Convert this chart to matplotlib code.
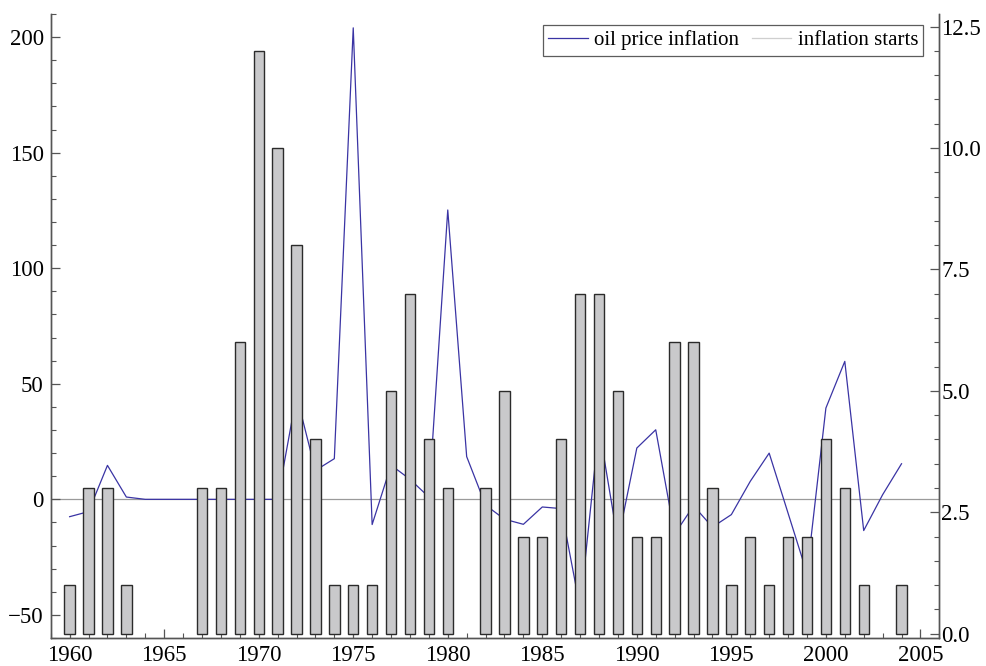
"""Oil price inflation (left axis) and number of inflation starts (bars, right axis), 1960-2004."""
import matplotlib
matplotlib.use("Agg")
import matplotlib.pyplot as plt
from matplotlib.lines import Line2D
from matplotlib.ticker import MultipleLocator, FormatStrFormatter

YEARS = list(range(1960, 2005))

# oil price inflation, % (left axis)
OIL_INFLATION = [
    -7.5, -5.3, 14.7, 1.0, 0.0, 0.0, 0.0, 0.0, 0.0, 0.0,      # 1960-1969
    0.0, 0.0, 45.0, 12.5, 17.6, 204.0, -10.9, 14.8, 8.7, 1.0,  # 1970-1979
    125.2, 18.5, -2.5, -8.6, -10.8, -3.3, -4.0, -47.0, 31.0, -18.0,  # 1980-1989
    22.2, 30.1, -15.0, -2.8, -12.0, -6.6, 7.8, 20.0, -6.0, -32.0,    # 1990-1999
    39.5, 59.7, -13.5, 2.0, 15.4,                                 # 2000-2004
]

# number of inflation starts (right axis)
INFLATION_STARTS = [
    1, 3, 3, 1, 0, 0, 0, 3, 3, 6,
    12, 10, 8, 4, 1, 1, 1, 5, 7, 4,
    3, 0, 3, 5, 2, 2, 4, 7, 7, 5,
    2, 2, 6, 6, 3, 1, 2, 1, 2, 2,
    4, 3, 1, 0, 1,
]

LINE_COL = "#3a34a4"
BAR_FACE = "#c9c9cb"
BAR_EDGE = "#2b2b2b"
AXIS_COL = "#555555"
TICK_FS = 16.5
LEG_FS = 15


def style_axis(ax):
    for side in ("left", "right", "bottom"):
        ax.spines[side].set_color(AXIS_COL)
        ax.spines[side].set_linewidth(1.0)
    ax.spines["top"].set_visible(False)
    ax.tick_params(which="both", direction="in", color=AXIS_COL, labelsize=TICK_FS)
    ax.tick_params(which="major", length=6.5, width=0.9)
    ax.tick_params(which="minor", length=3.5, width=0.8)


def main() -> None:
    plt.rcParams["font.family"] = ["Liberation Serif", "DejaVu Serif"]
    fig = plt.figure(figsize=(9.87, 6.66), dpi=100)
    ax = fig.add_axes([0.0514, 0.042, 0.9003, 0.937])
    ax2 = ax.twinx()

    # ---- left axis: oil price inflation + zero line ----
    ax.axhline(0, color="#9a9a9a", lw=0.9, zorder=1)
    ax.plot(YEARS, OIL_INFLATION, color=LINE_COL, lw=0.9, zorder=2)
    ax.set_xlim(1959.0, 2006.0)
    ax.set_ylim(-60, 210)
    ax.xaxis.set_major_locator(MultipleLocator(5))
    ax.xaxis.set_minor_locator(MultipleLocator(1))
    ax.yaxis.set_major_locator(MultipleLocator(50))
    ax.yaxis.set_minor_locator(MultipleLocator(10))
    style_axis(ax)
    ax.tick_params(axis="y", pad=5)
    ax.tick_params(axis="x", pad=5)

    # ---- right axis: bars of inflation starts (drawn over the line) ----
    # years with no start get no bar at all
    yb = [y for y, n in zip(YEARS, INFLATION_STARTS) if n > 0]
    nb = [n for n in INFLATION_STARTS if n > 0]
    ax2.bar(yb, nb, width=0.55, color=BAR_FACE,
            edgecolor=BAR_EDGE, linewidth=1.0, zorder=3)
    ax2.set_ylim(-0.09, 12.76)
    ax2.yaxis.set_major_locator(MultipleLocator(2.5))
    ax2.yaxis.set_minor_locator(MultipleLocator(0.5))
    ax2.yaxis.set_major_formatter(FormatStrFormatter("%.1f"))
    style_axis(ax2)
    ax2.tick_params(axis="y", pad=1.5)

    handles = [
        Line2D([], [], color=LINE_COL, lw=0.9),
        Line2D([], [], color="#cfcfcf", lw=0.9),
    ]
    leg = ax2.legend(handles, ["oil price inflation", "inflation starts"],
                     loc="upper right", ncol=2, fontsize=LEG_FS, frameon=True,
                     fancybox=False, borderpad=0.25, borderaxespad=0.0,
                     handlelength=1.9, handletextpad=0.3, columnspacing=0.6,
                     bbox_to_anchor=(0.982, 0.982))
    leg.get_frame().set_edgecolor("#333333")
    leg.get_frame().set_linewidth(0.9)

    fig.savefig("out.png", dpi=100)


if __name__ == "__main__":
    main()
